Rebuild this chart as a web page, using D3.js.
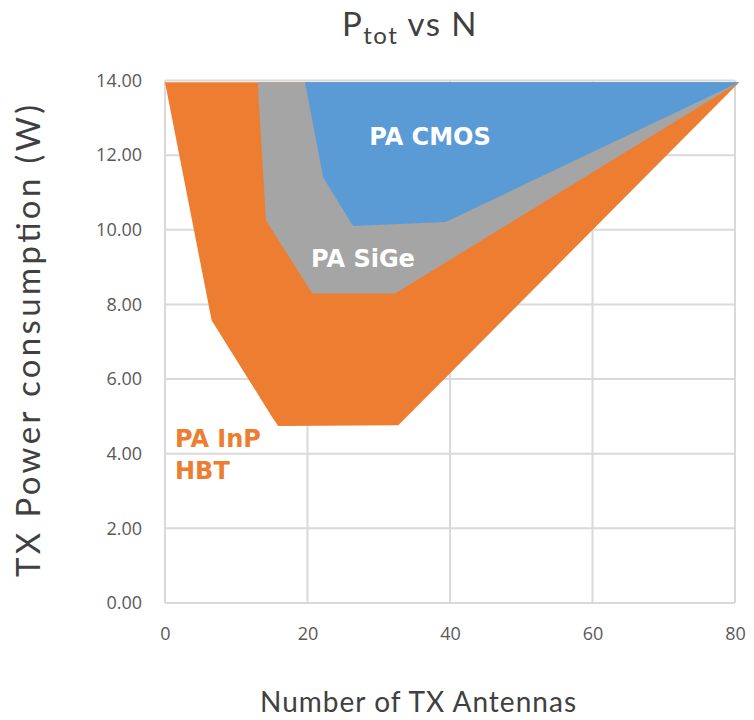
<!DOCTYPE html>
<html><head><meta charset="utf-8">
<script src="https://cdn.jsdelivr.net/npm/d3@7"></script>
<style>body{margin:0;background:#fff}</style>
</head><body>
<svg id="c" width="754" height="720"></svg>
<script>
// Data (region lower boundaries; each band fills up to the top value)
const topValue = 13.95;
const inpX = [0, 6.55, 14.98, 15.9, 32.74, 80.6];
const inpY = [13.95, 7.57, 5.0, 4.74, 4.76, 13.95];
const sigeX = [13.0, 14.18, 20.67, 32.28, 80.6];
const sigeY = [13.95, 10.25, 8.29, 8.29, 13.95];
const cmosX = [19.65, 22.2, 26.4, 39.4, 80.6];
const cmosY = [13.95, 11.4, 10.1, 10.21, 13.95];
const xTicks = [0, 20, 40, 60, 80];
const yTicks = [0, 2, 4, 6, 8, 10, 12, 14];
const seriesNames = ["PA InP HBT", "PA SiGe", "PA CMOS"];
const colors = ["#ED7D31", "#A5A5A5", "#5B9BD5"];

const svg = d3.select("#c");
const x = d3.scaleLinear().domain([0, 80]).range([165, 735]);
const y = d3.scaleLinear().domain([0, 14]).range([603, 80.5]);

// gridlines
svg.append("g").selectAll("line").data(yTicks).join("line")
  .attr("x1", x(0)).attr("x2", x(80)).attr("y1", d => y(d)).attr("y2", d => y(d))
  .attr("stroke", "#d9d9d9").attr("stroke-width", 2);
svg.append("g").selectAll("line").data(xTicks).join("line")
  .attr("y1", y(0)).attr("y2", y(14)).attr("x1", d => x(d)).attr("x2", d => x(d))
  .attr("stroke", "#d9d9d9").attr("stroke-width", 2);

const area = d3.area().x(d => x(d[0])).y0(() => y(topValue)).y1(d => y(d[1]));
const sets = [
  d3.zip(inpX, inpY),
  d3.zip(sigeX, sigeY),
  d3.zip(cmosX, cmosY)
];
sets.forEach((s, i) => {
  svg.append("path").datum(s).attr("d", area).attr("fill", colors[i]);
});

// tick labels
const yAxis = d3.axisLeft(y).tickValues(yTicks).tickFormat(d3.format(".2f")).tickSize(0).tickPadding(0);
const gy = svg.append("g").attr("transform", "translate(142,0)").call(yAxis);
const xAxis = d3.axisBottom(x).tickValues(xTicks).tickFormat(d3.format("d")).tickSize(0).tickPadding(0);
const gx = svg.append("g").attr("transform", "translate(0,627)").call(xAxis);
[gy, gx].forEach(g => {
  g.select(".domain").remove();
  g.selectAll("text").attr("fill", "#595959").style("font-family", "'Open Sans', sans-serif").style("font-size", "18px");
});

// title
const t = svg.append("text").attr("x", 410).attr("y", 36).attr("text-anchor", "middle")
  .attr("fill", "#404040").style("font-family", "Lato, sans-serif").style("font-size", "33px")
  .style("letter-spacing", "1.5px");
t.append("tspan").text("P");
t.append("tspan").text("tot").attr("dy", 8).style("font-size", "24px");
t.append("tspan").text(" vs N").attr("dy", -8);

// axis titles
svg.append("text").attr("transform", "translate(40,341) rotate(-90)").attr("text-anchor", "middle")
  .attr("fill", "#404040").style("font-family", "Lato, sans-serif").style("font-size", "33px")
  .attr("textLength", 472).attr("lengthAdjust", "spacing")
  .text("TX Power consumption (W)");
svg.append("text").attr("x", 418).attr("y", 712).attr("text-anchor", "middle")
  .attr("fill", "#404040").style("font-family", "Lato, sans-serif").style("font-size", "28px")
  .attr("textLength", 316).attr("lengthAdjust", "spacing")
  .text("Number of TX Antennas");

// region labels
const lab = (txt, px, py, fill, anchor) => svg.append("text").attr("x", px).attr("y", py)
  .attr("text-anchor", anchor).attr("fill", fill)
  .style("font-family", "'DejaVu Sans', sans-serif").style("font-weight", "bold").style("font-size", "24px").text(txt);
lab("PA CMOS", 430, 145, "#fff", "middle");
lab("PA SiGe", 363, 267, "#fff", "middle");
lab("PA InP", 175, 447, colors[0], "start");
lab("HBT", 175, 479, colors[0], "start");
</script>
</body></html>
